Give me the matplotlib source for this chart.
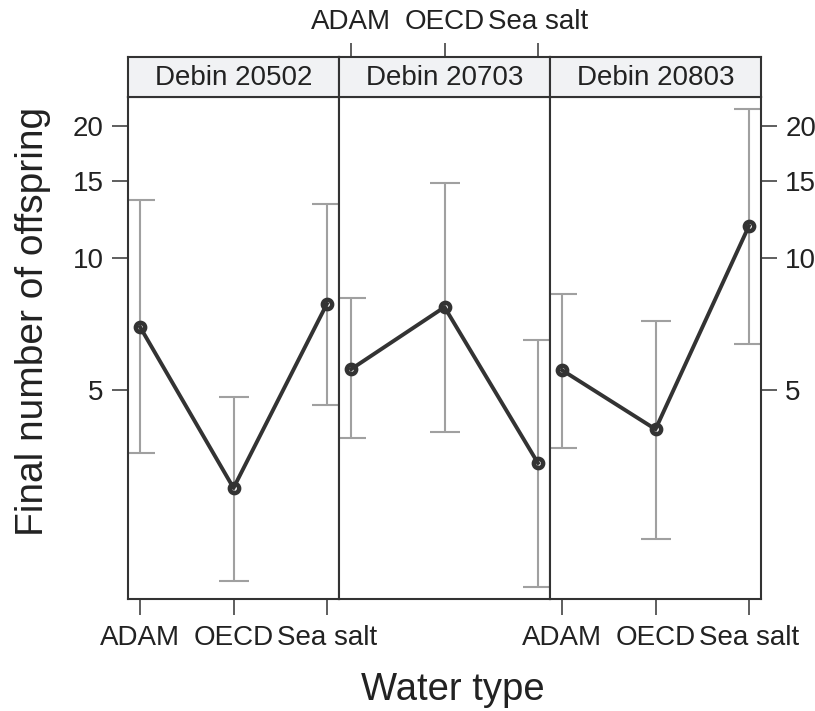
import matplotlib
matplotlib.use("Agg")
import matplotlib.pyplot as plt
from matplotlib.ticker import NullLocator

plt.rcParams["font.family"] = ["Liberation Sans", "DejaVu Sans"]

water_types = ["ADAM", "OECD", "Sea salt"]
strains = ["Debin 20502", "Debin 20703", "Debin 20803"]

# estimated mean and interval ends per strain, in water_types order
means = [
    [6.96, 2.99, 7.86],
    [5.58, 7.73, 3.41],
    [5.55, 4.07, 11.83],
]
lower = [
    [3.59, 1.83, 4.62],
    [3.89, 4.01, 1.78],
    [3.69, 2.29, 6.37],
]
upper = [
    [13.56, 4.82, 13.28],
    [8.11, 14.83, 6.50],
    [8.28, 7.18, 21.87],
]
y_ticks = [5, 10, 15, 20]

W, H = 815, 711
FRAME = "#333333"
LINE = "#333333"
ERR = "#a0a0a0"
STRIP = "#f1f2f4"
TEXT = "#222222"


def px_box(x0, y0, x1, y1):
    return [x0 / W, 1 - y1 / H, (x1 - x0) / W, (y1 - y0) / H]


def style_spines(ax):
    for s in ax.spines.values():
        s.set_color(FRAME)
        s.set_linewidth(1.5)


fig = plt.figure(figsize=(W / 100, H / 100), dpi=100)

edges = [128, 339, 550, 761]
top, bottom, strip_top = 97, 599, 57
x = [1, 2, 3]
xlim = (0.87, 3.13)

for i, name in enumerate(strains):
    ax = fig.add_axes(px_box(edges[i], top, edges[i + 1], bottom))
    m = means[i]
    yerr = [[m[k] - lower[i][k] for k in range(3)], [upper[i][k] - m[k] for k in range(3)]]
    ax.errorbar(x, m, yerr=yerr, fmt="none", ecolor=ERR, elinewidth=1.5,
                capsize=10.5, capthick=1.5, zorder=1)
    ax.plot(x, m, color=LINE, lw=2.8, zorder=2)
    ax.plot(x, m, ls="none", marker="o", ms=6.7, mfc="none",
            mec=LINE, mew=3.2, zorder=3)
    ax.set_yscale("log")
    ax.set_ylim(1.669, 23.3)
    ax.set_xlim(*xlim)
    ax.yaxis.set_minor_locator(NullLocator())
    ax.set_yticks(y_ticks)
    ax.set_yticklabels([str(t) for t in y_ticks])
    ax.set_xticks(x)
    ax.set_xticklabels(water_types)
    ax.tick_params(length=11.5, width=1.1, color=FRAME, labelsize=20, pad=6,
                   labelcolor=TEXT)
    ax.tick_params(axis="x", pad=7)
    style_spines(ax)

    # lattice style alternating axes
    ax.tick_params(left=(i == 0), labelleft=(i == 0),
                   right=(i == 2), labelright=(i == 2),
                   bottom=(i != 1), labelbottom=(i != 1),
                   top=False, labeltop=False)

    sax = fig.add_axes(px_box(edges[i], strip_top, edges[i + 1], top))
    sax.set_facecolor(STRIP)
    sax.set_xlim(*xlim)
    sax.set_yticks([])
    style_spines(sax)
    if i == 1:
        sax.set_xticks(x)
        sax.set_xticklabels(water_types)
        sax.tick_params(axis="x", bottom=False, labelbottom=False,
                        top=True, labeltop=True, length=10, width=1.1,
                        color=FRAME, labelsize=20, pad=5.5, labelcolor=TEXT)
    else:
        sax.set_xticks([])
    sax.text(0.5, 0.47, name, ha="center", va="center", fontsize=20,
             color=TEXT, transform=sax.transAxes)

fig.text(33 / W, 1 - 321 / H, "Final number of offspring", rotation=90,
         ha="center", va="center", fontsize=28, color=TEXT)
fig.text(453 / W, 1 - 700 / H, "Water type", ha="center", va="baseline",
         fontsize=27.5, color=TEXT)

fig.savefig("out.png", dpi=100)
